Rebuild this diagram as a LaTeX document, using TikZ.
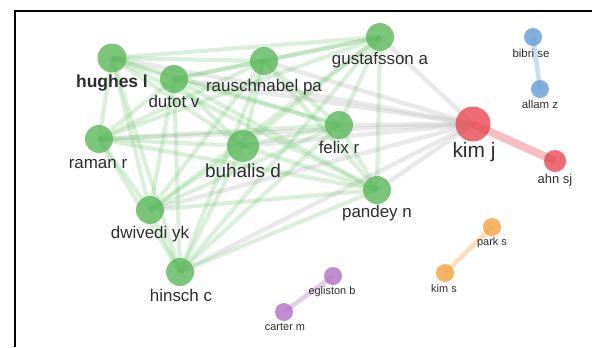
\documentclass[tikz,border=0pt]{standalone}
\usepackage{fontspec}
\setmainfont{Liberation Sans}
\usetikzlibrary{backgrounds}
\definecolor{gnode}{RGB}{90,184,90}
\definecolor{gedge}{RGB}{110,196,110}
\definecolor{rnode}{RGB}{232,72,82}
\definecolor{bnode}{RGB}{100,155,215}
\definecolor{onode}{RGB}{247,160,64}
\definecolor{pnode}{RGB}{176,112,196}
\definecolor{txt}{RGB}{45,45,45}
\begin{document}
\begin{tikzpicture}[x=1bp,y=-1bp,
  vnode/.style={circle,inner sep=0pt,minimum size=#1,fill opacity=0.8},
  gn/.style={vnode=#1,fill=gnode},
  lab/.style={anchor=base,text=txt,inner sep=0pt,font=\fontsize{#1}{#1}\selectfont},
  gline/.style={draw=gedge,line width=4.2bp,draw opacity=0.25},
  kline/.style={draw=black!22,line width=4.5bp,draw opacity=0.4},
  pline/.style={line width=4.5bp,draw opacity=0.35}]
\useasboundingbox (0,0) rectangle (592,347);
\draw[line width=2.6bp] (592,11) -- (15,11) -- (15,347);
% nodes
\node[gn=29bp] (hu) at (112,58) {};
\node[gn=28bp] (du) at (174,79) {};
\node[gn=28bp] (rp) at (264,61) {};
\node[gn=28bp] (gu) at (380,37) {};
\node[gn=28bp] (fe) at (339,125) {};
\node[gn=32bp] (bu) at (243,146) {};
\node[gn=28bp] (rm) at (99,139) {};
\node[gn=28bp] (dw) at (150,210) {};
\node[gn=28bp] (hi) at (180,272) {};
\node[gn=28bp] (pa) at (377,190) {};
\node[vnode=35bp,fill=rnode] (kj) at (473,124) {};
\node[vnode=22bp,fill=rnode] (ah) at (555,161) {};
\node[vnode=18bp,fill=bnode] (bs) at (533,37) {};
\node[vnode=18bp,fill=bnode] (az) at (540,89) {};
\node[vnode=18bp,fill=onode] (ps) at (492,227) {};
\node[vnode=18bp,fill=onode] (ks) at (445,273) {};
\node[vnode=18bp,fill=pnode] (eb) at (333,276) {};
\node[vnode=18bp,fill=pnode] (cm) at (284,312) {};
% labels
\node[lab=17.5,font=\fontsize{17.5}{17.5}\selectfont\bfseries] (lhu) at (112,87) {hughes l};
\node[lab=17] (ldu) at (174,107) {dutot v};
\node[lab=17] (lrp) at (264,91) {rauschnabel pa};
\node[lab=17] (lgu) at (380,64) {gustafsson a};
\node[lab=17] (lfe) at (339,153) {felix r};
\node[lab=19] (lbu) at (243,177) {buhalis d};
\node[lab=17] (lrm) at (98,168) {raman r};
\node[lab=17] (ldw) at (150,238) {dwivedi yk};
\node[lab=17] (lhi) at (181,301) {hinsch c};
\node[lab=17] (lpa) at (377,217) {pandey n};
\node[lab=21] (lkj) at (474,157) {kim j};
\node[lab=13] (lah) at (555,183) {ahn sj};
\node[lab=11.5] (lbs) at (531,57) {bibri se};
\node[lab=11.5] (laz) at (540,108) {allam z};
\node[lab=11] (lps) at (492,245) {park s};
\node[lab=11] (lks) at (444,292) {kim s};
\node[lab=11] (leb) at (332,294) {egliston b};
\node[lab=11] (lcm) at (285,330) {carter m};
% edges
\begin{scope}[on background layer]
\foreach \a in {hu,du,rp,gu,fe,bu,rm,dw,hi,pa}
  \draw[kline] (\a.center) -- (kj.center);
\foreach \a/\b in {hu/du,hu/rp,hu/gu,hu/fe,hu/bu,hu/rm,hu/dw,hu/hi,hu/pa,
  du/rp,du/gu,du/fe,du/bu,du/rm,du/dw,du/hi,du/pa,
  rp/gu,rp/fe,rp/bu,rp/rm,rp/dw,rp/hi,rp/pa,
  gu/fe,gu/bu,gu/rm,gu/dw,gu/hi,gu/pa,
  fe/bu,fe/rm,fe/dw,fe/hi,fe/pa,
  bu/rm,bu/dw,bu/hi,bu/pa,
  rm/dw,rm/hi,rm/pa,
  dw/hi,dw/pa,hi/pa}
  \draw[gline] (\a.center) -- (\b.center);
\draw[pline,draw=rnode,line width=8bp] (kj.center) -- (ah.center);
\draw[pline,draw=bnode] (bs.center) -- (az.center);
\draw[pline,draw=onode] (ps.center) -- (ks.center);
\draw[pline,draw=pnode] (eb.center) -- (cm.center);
\end{scope}
\end{tikzpicture}
\end{document}
